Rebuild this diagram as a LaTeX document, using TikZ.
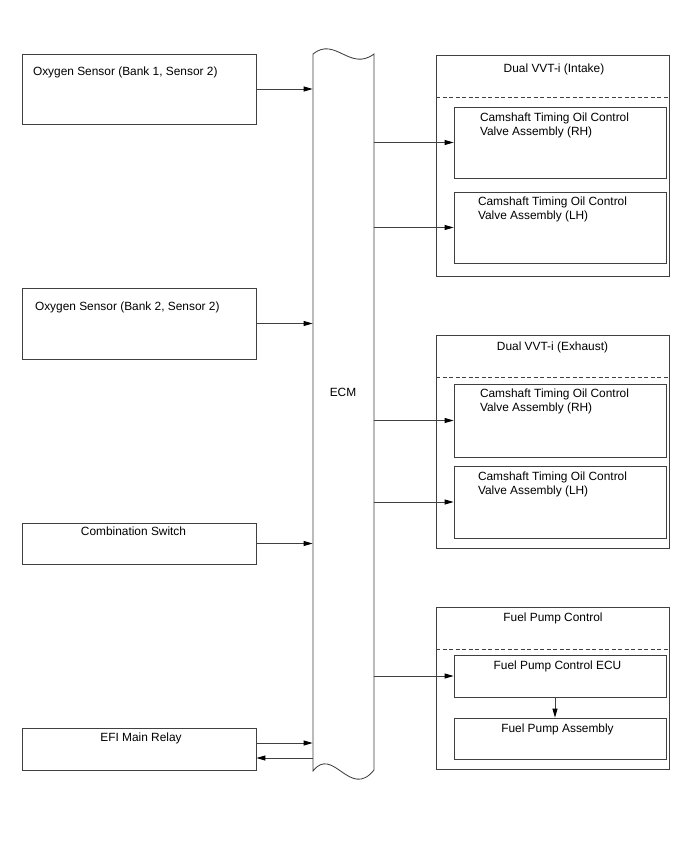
\documentclass[tikz,border=0pt]{standalone}
\usepackage{fontspec}
\setmainfont{Liberation Sans}
\usetikzlibrary{arrows.meta}
\begin{document}
\begin{tikzpicture}[x=1pt,y=-1pt,
  line/.style={draw=black!75,line width=0.85pt},
  box/.style={line,rectangle,inner sep=0pt,outer sep=0pt},
  sepline/.style={line,dash pattern=on 4pt off 2.5pt},
  arr/.style={line,-{Triangle[length=9pt,width=5pt,color=black]},shorten >=0.4pt},
  lbl/.style={inner sep=0pt,outer sep=0pt,font=\fontsize{11.9}{14}\selectfont,text=black},
  lbll/.style={lbl,align=left,anchor=base west},
  lblc/.style={lbl,align=center,anchor=base}]
\useasboundingbox (0,0) rectangle (688,852);
\fill[white] (0,0) rectangle (688,852);

% left boxes
\node[box,minimum width=234pt,minimum height=70pt] (b1) at (139,89) {};
\node[box,minimum width=234pt,minimum height=71pt] (b2) at (139,323.5) {};
\node[box,minimum width=234pt,minimum height=41pt] (b3) at (139,543.5) {};
\node[box,minimum width=234pt,minimum height=42pt] (b4) at (139,749) {};
\node[lbll] (t1) at (33,75.2) {Oxygen Sensor (Bank 1, Sensor 2)};
\node[lbll] (t2) at (35,310.5) {Oxygen Sensor (Bank 2, Sensor 2)};
\node[lblc] (t3) at (133.5,535.5) {Combination Switch};
\node[lblc] (t4) at (141,741.5) {EFI Main Relay};

% ECM
\coordinate (ecmL) at (313,0);
\coordinate (ecmR) at (374,0);
\draw[line] (313,54) -- (313,771) .. controls (333,745) and (350,800) .. (374,770)
  -- (374,54) .. controls (350,72) and (335,36) .. (313,54) -- cycle;
\node[lblc] (ecm) at (343,396) {ECM};

% group 1
\node[box,minimum width=233pt,minimum height=221pt] (g1) at (552.5,165.5) {};
\draw[sepline] (g1.west |- 0,97) -- (g1.east |- 0,97);
\node[lblc] (g1t) at (554,72.5) {Dual VVT-i (Intake)};
\node[box,minimum width=212pt,minimum height=71pt] (g1a) at (560,142.5) {};
\node[box,minimum width=212pt,minimum height=71pt] (g1b) at (560,227.5) {};
\node[lbll] (g1at) at (480,135.5) {Camshaft Timing Oil Control\\Valve Assembly (RH)};
\node[lbll] (g1bt) at (478,219.5) {Camshaft Timing Oil Control\\Valve Assembly (LH)};

% group 2
\node[box,minimum width=233pt,minimum height=213pt] (g2) at (552.5,441.5) {};
\draw[sepline] (g2.west |- 0,377) -- (g2.east |- 0,377);
\node[lblc] (g2t) at (552.5,350.5) {Dual VVT-i (Exhaust)};
\node[box,minimum width=212pt,minimum height=73pt] (g2a) at (560,420.5) {};
\node[box,minimum width=212pt,minimum height=72pt] (g2b) at (560,502) {};
\node[lbll] (g2at) at (480,411.5) {Camshaft Timing Oil Control\\Valve Assembly (RH)};
\node[lbll] (g2bt) at (478,494.5) {Camshaft Timing Oil Control\\Valve Assembly (LH)};

% group 3
\node[box,minimum width=233pt,minimum height=162pt] (g3) at (552.5,688) {};
\draw[sepline] (g3.west |- 0,649) -- (g3.east |- 0,649);
\node[lblc] (g3t) at (553,621.5) {Fuel Pump Control};
\node[box,minimum width=212pt,minimum height=42pt] (g3a) at (560,676) {};
\node[box,minimum width=212pt,minimum height=41pt] (g3b) at (560,738.5) {};
\node[lblc] (g3at) at (557.5,669.5) {Fuel Pump Control ECU};
\node[lblc] (g3bt) at (557.5,732.5) {Fuel Pump Assembly};

% connectors
\draw[arr] (b1.east) -- (b1.east -| ecmL);
\draw[arr] (b2.east) -- (b2.east -| ecmL);
\draw[arr] (b3.east) -- (b3.east -| ecmL);
\draw[arr] ([yshift=6pt]b4.east) -- ([yshift=6pt]b4.east -| ecmL);
\draw[arr] ([yshift=-9pt]b4.east -| ecmL) -- ([yshift=-9pt]b4.east);
\draw[arr] (g1a.west -| ecmR) -- (g1a.west);
\draw[arr] (g1b.west -| ecmR) -- (g1b.west);
\draw[arr] (g2a.west -| ecmR) -- (g2a.west);
\draw[arr] (g2b.west -| ecmR) -- (g2b.west);
\draw[arr] (g3a.west -| ecmR) -- (g3a.west);
\draw[arr] ([xshift=-5pt]g3a.south) -- ([xshift=-5pt]g3b.north);
\end{tikzpicture}
\end{document}
